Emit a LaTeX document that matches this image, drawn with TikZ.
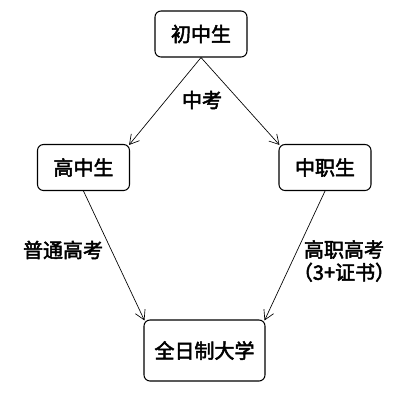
\documentclass[tikz,border=0pt]{standalone}
\usepackage{fontspec}
\setmainfont{Noto Sans CJK SC}
\newfontfamily\cjkmid[FakeBold=2.5]{Noto Sans CJK SC}
\usetikzlibrary{arrows.meta}
\tikzset{
	boxA/.style={
		draw, rounded corners=4.5pt, line width=0.8pt,
		minimum width=69pt, minimum height=34.5pt,
		font={\cjkmid\fontsize{15}{18}\selectfont}
	},
	textA/.style={
		font={\cjkmid\fontsize{15}{17}\selectfont}, align=center, inner sep=1pt
	},
	>={Straight Barb[length=7pt,width=8pt]},
}
\begin{document}
\begin{tikzpicture}[x=0.75pt, y=-0.75pt, line width=0.5pt]
\useasboundingbox (0,0) rectangle (418,401);
\node [boxA] (cz) at (201,34) {初中生};
\node [boxA] (gz) at (83.5,167.5) {高中生};
\node [boxA] (zz) at (325,167.5) {中职生};
\node [boxA, minimum width=90.75pt, minimum height=45.75pt] (dx) at (204.5,350.5) {全日制大学};
% labels
\node [textA] (zk) at (202,100) {中考};
\node [textA] (pt) at (63,250) {普通高考};
\node [textA] (gk) at (344,261) {高职高考\\（3+证书）};
% arrows
\draw [->] (cz.south) -- ([shift={(-1,1)}]gz.north east);
\draw [->] (cz.south) -- ([shift={(1,1)}]zz.north west);
\draw [->] (gz.south) -- ([shift={(1,1)}]dx.north west);
\draw [->] (zz.south) -- ([shift={(-1,1)}]dx.north east);
\end{tikzpicture}
\end{document}
